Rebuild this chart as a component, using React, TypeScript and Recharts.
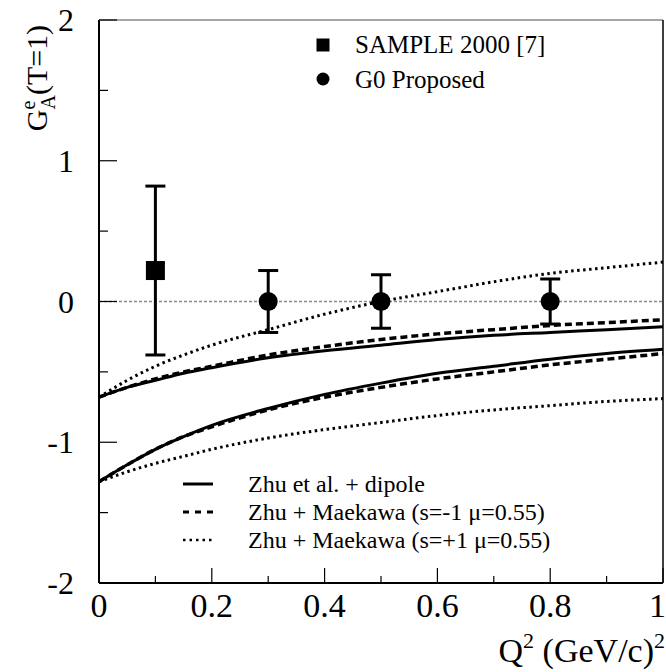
import { ComposedChart, Line, Scatter, ErrorBar, XAxis, YAxis, ReferenceLine } from "recharts"

const FONT = "'Liberation Serif', 'Times New Roman', Times, serif"

// Q^2 grid the theory curves were read at
const qGrid = [0, 0.05, 0.1, 0.15, 0.2, 0.3, 0.4, 0.5, 0.6, 0.7, 0.8, 0.9, 1.0]

// upper band (starts at -0.68)
const dipoleUp = [-0.68, -0.61, -0.56, -0.51, -0.47, -0.40, -0.35, -0.31, -0.27, -0.24, -0.22, -0.20, -0.18]
const minusUp = [-0.68, -0.61, -0.55, -0.50, -0.46, -0.38, -0.32, -0.27, -0.23, -0.20, -0.17, -0.15, -0.13]
const plusUp = [-0.68, -0.56, -0.46, -0.38, -0.31, -0.20, -0.09, 0.0, 0.07, 0.14, 0.20, 0.24, 0.28]

// lower band (starts at -1.28)
const dipoleLow = [-1.28, -1.16, -1.05, -0.96, -0.88, -0.76, -0.66, -0.58, -0.51, -0.46, -0.41, -0.37, -0.34]
const minusLow = [-1.28, -1.16, -1.05, -0.96, -0.89, -0.77, -0.68, -0.61, -0.55, -0.50, -0.45, -0.41, -0.37]
const plusLow = [-1.28, -1.21, -1.15, -1.10, -1.05, -0.97, -0.91, -0.86, -0.81, -0.77, -0.74, -0.71, -0.69]

// data points
const sampleQ = [0.1]
const sampleVal = [0.22]
const sampleErr = [0.6]

const g0Q = [0.3, 0.5, 0.8]
const g0Val = [0, 0, 0]
const g0Err = [0.22, 0.19, 0.16]

const xTicks = [0, 0.1, 0.2, 0.3, 0.4, 0.5, 0.6, 0.7, 0.8, 0.9, 1]
const yTicks = [-2, -1.5, -1, -0.5, 0, 0.5, 1, 1.5, 2]

const curves = qGrid.map((q, i) => ({
  q,
  dipoleUp: dipoleUp[i],
  minusUp: minusUp[i],
  plusUp: plusUp[i],
  dipoleLow: dipoleLow[i],
  minusLow: minusLow[i],
  plusLow: plusLow[i],
}))

const sampleData = sampleQ.map((q, i) => ({ q, val: sampleVal[i], err: sampleErr[i] }))
const g0Data = g0Q.map((q, i) => ({ q, val: g0Val[i], err: g0Err[i] }))

const textStyle = { fontFamily: FONT }

function YTick(props: any) {
  const { x, y, payload } = props
  const v = payload.value
  const major = Number.isInteger(v)
  return (
    <g>
      <line x1={x} x2={x + (major ? 18 : 9)} y1={y} y2={y} stroke="#000" strokeWidth={1.2} />
      {major && (
        <text x={x - 25} y={y + 11} textAnchor="end" fontSize={32} style={textStyle} fill="#000">
          {String(v)}
        </text>
      )}
    </g>
  )
}

function XTick(props: any) {
  const { x, y, payload } = props
  const v = payload.value
  const major = Math.round(v * 10) % 2 === 0
  const last = v === 1
  return (
    <g>
      <line x1={x} x2={x} y1={y} y2={y - (major ? 15 : 7)} stroke="#000" strokeWidth={1.2} />
      {major && (
        <text
          x={last ? x + 3 : x}
          y={y + 34}
          textAnchor={last ? "end" : "middle"}
          fontSize={34}
          style={textStyle}
          fill="#000"
        >
          {String(v)}
        </text>
      )}
    </g>
  )
}

const squareShape = (p: any) => <rect x={p.cx - 9.5} y={p.cy - 9.5} width={19} height={19} fill="#000" />
const circleShape = (p: any) => <circle cx={p.cx} cy={p.cy} r={9.5} fill="#000" />

export default function App() {
  return (
    <div style={{ position: "absolute", left: 0, top: 0, width: 666, height: 672, background: "#fff" }}>
      <ComposedChart
        width={666}
        height={672}
        data={curves}
        margin={{ top: 0, right: 0, bottom: 0, left: 0 }}
      >
        <XAxis
          dataKey="q"
          type="number"
          domain={[0, 1]}
          ticks={xTicks}
          interval={0}
          height={89}
          tickSize={0}
          tickMargin={0}
          tickLine={false}
          tick={<XTick />}
          axisLine={{ stroke: "#000", strokeWidth: 2 }}
        />
        <XAxis
          xAxisId="top"
          orientation="top"
          type="number"
          domain={[0, 1]}
          height={20}
          tick={false}
          tickLine={false}
          axisLine={{ stroke: "#888", strokeWidth: 1.5 }}
        />
        <YAxis
          type="number"
          domain={[-2, 2]}
          ticks={yTicks}
          interval={0}
          width={99}
          tickSize={0}
          tickMargin={0}
          tickLine={false}
          tick={<YTick />}
          axisLine={{ stroke: "#000", strokeWidth: 2 }}
        />
        <YAxis
          yAxisId="right"
          orientation="right"
          type="number"
          domain={[-2, 2]}
          width={3}
          tick={false}
          tickLine={false}
          axisLine={{ stroke: "#000", strokeWidth: 1.5 }}
        />

        <ReferenceLine y={0} stroke="#888" strokeWidth={1.3} strokeDasharray="3 2" />

        <Line dataKey="dipoleUp" type="monotone" stroke="#000" strokeWidth={3} dot={false} isAnimationActive={false} />
        <Line dataKey="minusUp" type="monotone" stroke="#000" strokeWidth={3.5} strokeDasharray="7 4" dot={false} isAnimationActive={false} />
        <Line dataKey="plusUp" type="monotone" stroke="#000" strokeWidth={3} strokeDasharray="2.5 3.5" dot={false} isAnimationActive={false} />
        <Line dataKey="dipoleLow" type="monotone" stroke="#000" strokeWidth={3} dot={false} isAnimationActive={false} />
        <Line dataKey="minusLow" type="monotone" stroke="#000" strokeWidth={3.5} strokeDasharray="7 4" dot={false} isAnimationActive={false} />
        <Line dataKey="plusLow" type="monotone" stroke="#000" strokeWidth={3} strokeDasharray="2.5 3.5" dot={false} isAnimationActive={false} />

        <Scatter data={sampleData} dataKey="val" shape={squareShape} isAnimationActive={false}>
          <ErrorBar dataKey="err" direction="y" width={10} stroke="#000" strokeWidth={3} />
        </Scatter>
        <Scatter data={g0Data} dataKey="val" shape={circleShape} isAnimationActive={false}>
          <ErrorBar dataKey="err" direction="y" width={10} stroke="#000" strokeWidth={3} />
        </Scatter>
      </ComposedChart>

      <svg
        width={666}
        height={672}
        style={{ position: "absolute", left: 0, top: 0, pointerEvents: "none", fontFamily: FONT }}
      >
        {/* axis titles */}
        <text transform="translate(47,78) rotate(-90)" textAnchor="middle" fontSize={30} fill="#000">
          G
          <tspan fontSize={20} dy={-12}>e</tspan>
          <tspan fontSize={20} dx={-9} dy={20}>A</tspan>
          <tspan dy={-8}>(T=1)</tspan>
        </text>
        <text x={665} y={662} textAnchor="end" fontSize={34} fill="#000">
          Q<tspan fontSize={22} dy={-14}>2</tspan>
          <tspan dy={14}> (GeV/c)</tspan>
          <tspan fontSize={22} dy={-14}>2</tspan>
        </text>

        {/* data legend */}
        <rect x={316.5} y={38.5} width={13} height={13} fill="#000" />
        <text x={355} y={53} fontSize={25} fill="#000">SAMPLE 2000 [7]</text>
        <circle cx={323} cy={79} r={6.5} fill="#000" />
        <text x={355} y={88} fontSize={25} fill="#000">G0 Proposed</text>

        {/* theory legend */}
        <line x1={183} x2={213} y1={484} y2={484} stroke="#000" strokeWidth={3} />
        <text x={248} y={492} fontSize={24} fill="#000">Zhu et al. + dipole</text>
        <line x1={183} x2={213} y1={512} y2={512} stroke="#000" strokeWidth={3} strokeDasharray="6 6" />
        <text x={248} y={520} fontSize={24} fill="#000">Zhu + Maekawa (s=-1 μ=0.55)</text>
        <line x1={183} x2={213} y1={540} y2={540} stroke="#000" strokeWidth={2.5} strokeDasharray="2.5 4" />
        <text x={248} y={548} fontSize={24} fill="#000">Zhu + Maekawa (s=+1 μ=0.55)</text>
      </svg>
    </div>
  )
}
